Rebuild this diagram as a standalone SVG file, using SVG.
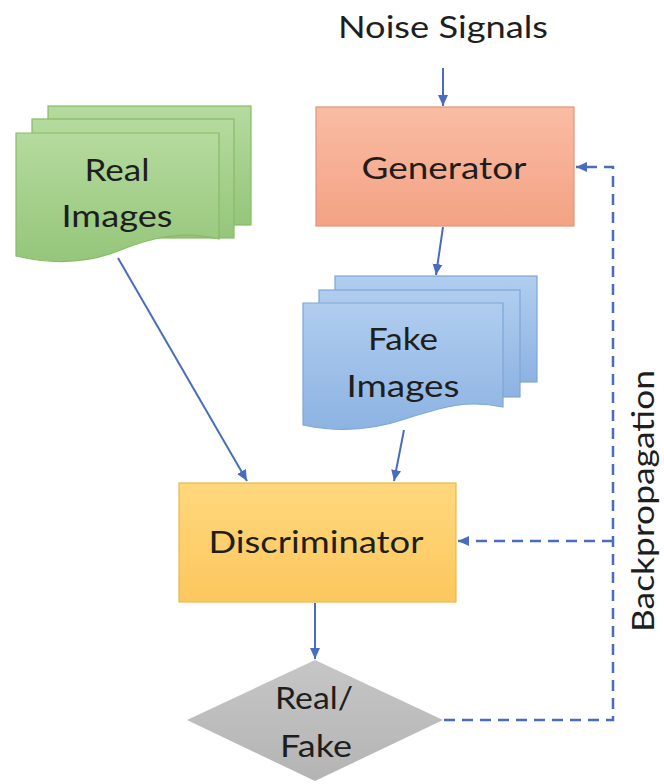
<svg xmlns="http://www.w3.org/2000/svg" width="664" height="784" viewBox="0 0 664 784">
  <defs>
    <linearGradient id="gGreen" x1="0" y1="0" x2="0" y2="1">
      <stop offset="0" stop-color="#b5da9e"/>
      <stop offset="1" stop-color="#95c67a"/>
    </linearGradient>
    <linearGradient id="gBlue" x1="0" y1="0" x2="0" y2="1">
      <stop offset="0" stop-color="#b0cdef"/>
      <stop offset="1" stop-color="#8db3e2"/>
    </linearGradient>
    <linearGradient id="gOrange" x1="0" y1="0" x2="0" y2="1">
      <stop offset="0" stop-color="#f9bca3"/>
      <stop offset="1" stop-color="#f4a284"/>
    </linearGradient>
    <linearGradient id="gYellow" x1="0" y1="0" x2="0" y2="1">
      <stop offset="0" stop-color="#ffd87c"/>
      <stop offset="1" stop-color="#fcc75e"/>
    </linearGradient>
    <linearGradient id="gGray" x1="0" y1="0" x2="0" y2="1">
      <stop offset="0" stop-color="#c6c6c6"/>
      <stop offset="1" stop-color="#b4b4b4"/>
    </linearGradient>
    <marker id="arr" markerUnits="userSpaceOnUse" markerWidth="12" markerHeight="12" viewBox="0 0 12 12" refX="11" refY="6" orient="auto">
      <path d="M0,1 L11,6 L0,11 Z" fill="#4a6cc0"/>
    </marker>
  </defs>
  <style>
    .lbl { font-family: Lato, "Open Sans", "Liberation Sans", sans-serif; font-size: 31px; fill: #1e1e1e; text-anchor: middle; }
    .green { fill: url(#gGreen); stroke: #86bb66; stroke-width: 1.2; }
    .blue { fill: url(#gBlue); stroke: #7fa6d6; stroke-width: 1.2; }
    .conn { fill: none; stroke: #4a6cc0; stroke-width: 2; }
    .dash { fill: none; stroke: #4a6cc0; stroke-width: 2.5; stroke-dasharray: 11 7; }
  </style>

  <text class="lbl" x="443" y="38" textLength="210" lengthAdjust="spacingAndGlyphs">Noise Signals</text>

  <g id="real-images">
    <rect class="green" x="48" y="106" width="203" height="119"/>
    <rect class="green" x="32" y="119" width="202" height="119"/>
    <path class="green" d="M16,133 H219 V239 C180,230 150,238 118,251 C85,264 50,264 16,256 Z"/>
    <text class="lbl" x="117" y="181" textLength="65" lengthAdjust="spacingAndGlyphs">Real</text>
    <text class="lbl" x="117" y="227" textLength="111" lengthAdjust="spacingAndGlyphs">Images</text>
  </g>

  <g id="generator">
    <rect x="316" y="107" width="258" height="119" fill="url(#gOrange)" stroke="#e2947a" stroke-width="1.2"/>
    <text class="lbl" x="444" y="179" textLength="165" lengthAdjust="spacingAndGlyphs">Generator</text>
  </g>

  <g id="fake-images">
    <rect class="blue" x="335" y="276" width="202" height="106"/>
    <rect class="blue" x="319" y="290" width="201" height="107"/>
    <path class="blue" d="M303,303 H503 V407 C465,399 440,408 405,419 C370,431 335,432 303,425 Z"/>
    <text class="lbl" x="403" y="350" textLength="70" lengthAdjust="spacingAndGlyphs">Fake</text>
    <text class="lbl" x="403" y="397" textLength="113" lengthAdjust="spacingAndGlyphs">Images</text>
  </g>

  <g id="discriminator">
    <rect x="179" y="483" width="277" height="119" fill="url(#gYellow)" stroke="#e9b84c" stroke-width="1.2"/>
    <text class="lbl" x="316" y="553" textLength="215" lengthAdjust="spacingAndGlyphs">Discriminator</text>
  </g>

  <g id="real-fake">
    <path d="M315,660 L443,720 L315,781 L187,720 Z" fill="url(#gGray)"/>
    <text class="lbl" x="314" y="709" textLength="78" lengthAdjust="spacingAndGlyphs">Real/</text>
    <text class="lbl" x="316" y="757" textLength="72" lengthAdjust="spacingAndGlyphs">Fake</text>
  </g>

  <text class="lbl" transform="translate(654,501) rotate(-90)" x="0" y="0" textLength="262" lengthAdjust="spacingAndGlyphs">Backpropagation</text>

  <g id="connectors">
    <line class="conn" x1="443" y1="68" x2="443" y2="106" marker-end="url(#arr)"/>
    <line class="conn" x1="443" y1="227" x2="436" y2="275" marker-end="url(#arr)"/>
    <line class="conn" x1="118" y1="258" x2="247" y2="481" marker-end="url(#arr)"/>
    <line class="conn" x1="404" y1="430" x2="394" y2="481" marker-end="url(#arr)"/>
    <line class="conn" x1="315" y1="603" x2="315" y2="659" marker-end="url(#arr)"/>
    <path class="dash" d="M444,720 H613 V167 H576" marker-end="url(#arr)"/>
    <path class="dash" d="M613,541 H458" marker-end="url(#arr)"/>
  </g>
</svg>
